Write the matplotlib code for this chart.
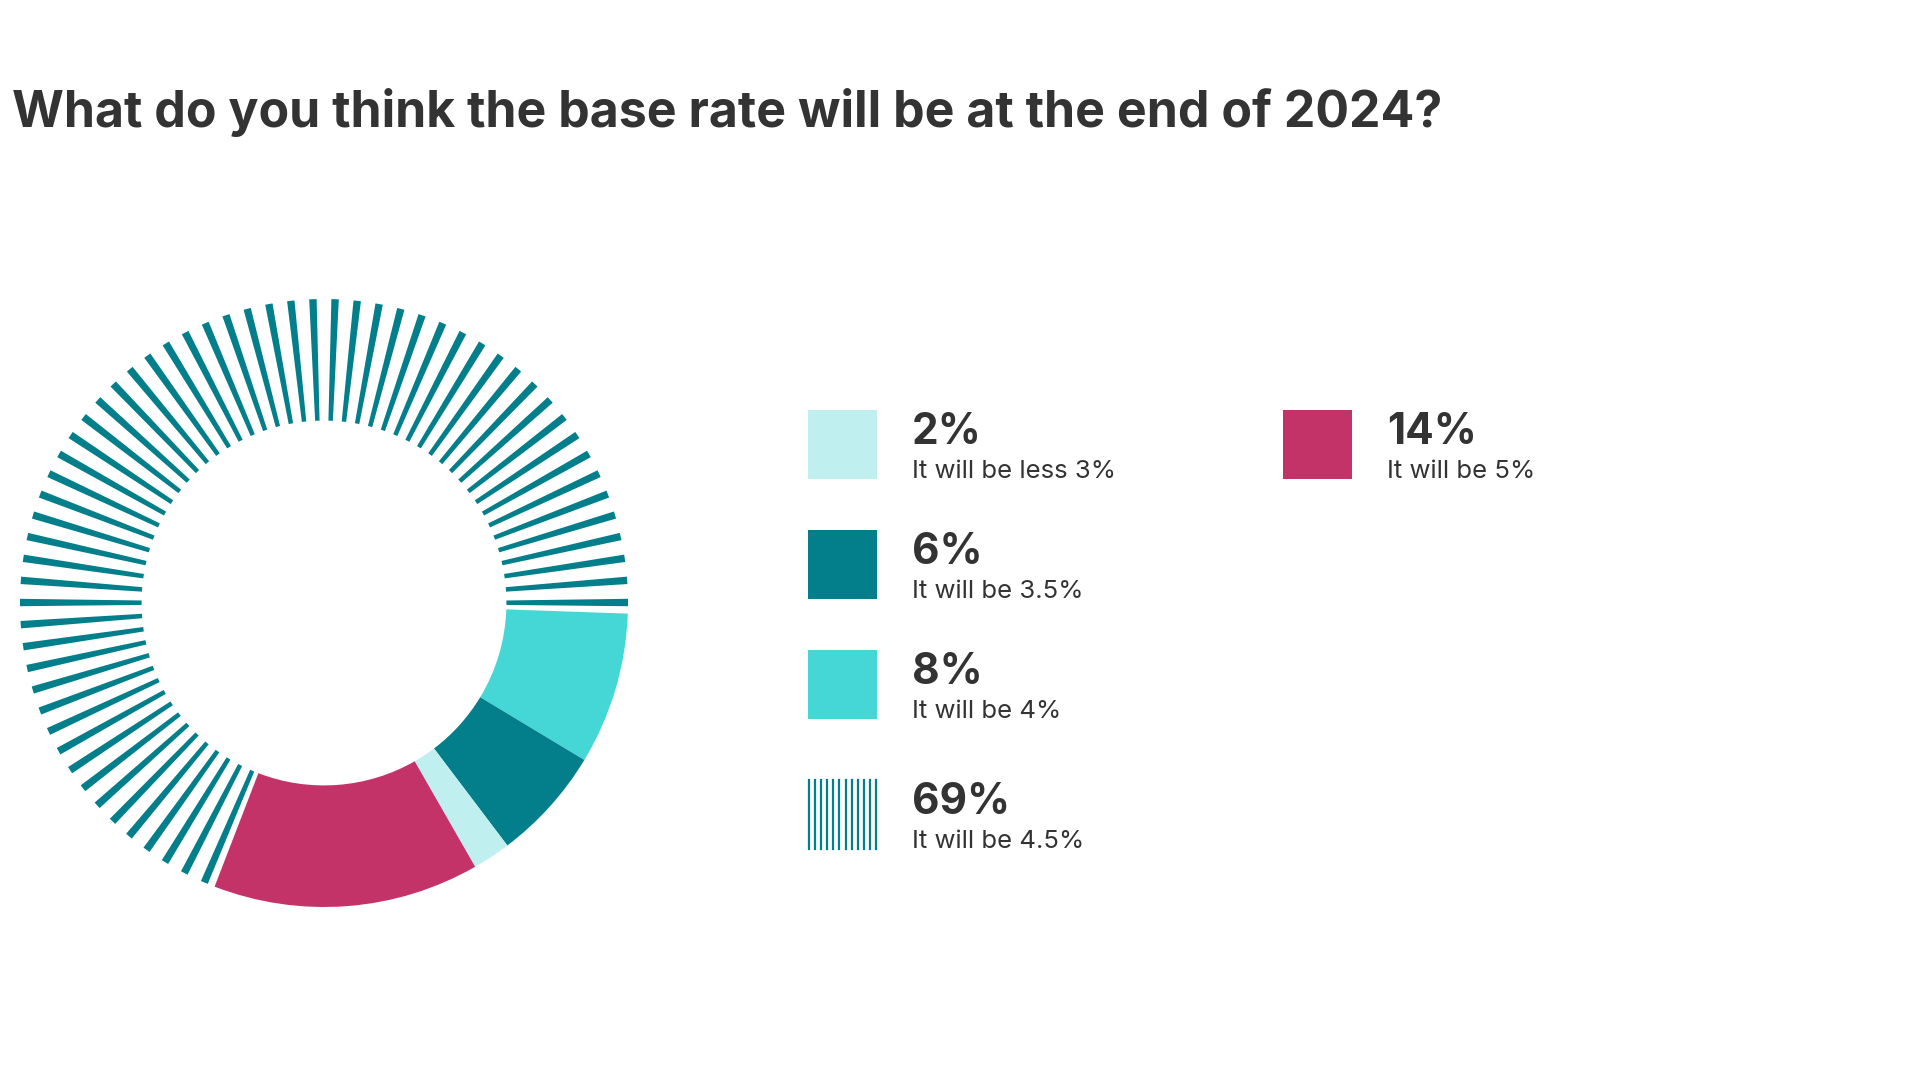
import numpy as np
import matplotlib.pyplot as plt
from matplotlib.patches import Wedge, Rectangle
from matplotlib.lines import Line2D

plt.rcParams['font.family'] = ['Inter', 'DejaVu Sans']

# data
title = "What do you think the base rate will be at the end of 2024?"
labels = ["It will be less 3%", "It will be 3.5%", "It will be 4%", "It will be 4.5%", "It will be 5%"]
shares = [2, 6, 8, 69, 14]
colors = ["#c0efef", "#027f8b", "#45d7d6", "#027f8b", "#c43368"]
striped = [False, False, False, True, False]
pie_order = [2, 1, 0, 4, 3]  # clockwise from 3 o'clock
n_stripes = 60

W, H = 1920, 1080
TEXT = "#333333"


def fx(px):
    return px / W


def fy(py):
    return 1 - py / H


fig = plt.figure(figsize=(19.2, 10.8), dpi=100)
fig.text(fx(12), fy(127), title, fontsize=36, fontweight='bold', color=TEXT,
         ha='left', va='baseline')

# donut
ax = fig.add_axes([fx(20), 173 / H, 608 / W, 608 / H])
wedges, _ = ax.pie([shares[i] for i in pie_order], startangle=-2, counterclock=False,
                   colors=[colors[i] for i in pie_order], radius=1,
                   wedgeprops=dict(width=0.4, linewidth=0))
for w, i in zip(wedges, pie_order):
    if not striped[i]:
        continue
    w.set_visible(False)
    step = (w.theta2 - w.theta1) / n_stripes
    for k in range(n_stripes):
        c = w.theta1 + step * (k + 0.5)
        ax.add_patch(Wedge((0, 0), 1, c - 0.7, c + 0.7, width=0.4,
                           facecolor=colors[i], linewidth=0))
ax.set_xlim(-1, 1)
ax.set_ylim(-1, 1)
ax.set_aspect('equal')
ax.axis('off')

# legend: 4 rows in first column, rest in second
slots = [(808, 410), (808, 530), (808, 650), (808, 780), (1283, 410)]
sw = 69
for i, (x0, y0) in enumerate(slots):
    if striped[i]:
        for xl in np.linspace(x0 + 1, x0 + sw - 1, 12):
            fig.add_artist(Line2D([fx(xl), fx(xl)], [fy(y0), fy(y0 + sw)],
                                  color=colors[i], linewidth=1.6))
    else:
        fig.add_artist(Rectangle((fx(x0), fy(y0 + sw)), sw / W, sw / H,
                                 facecolor=colors[i], linewidth=0))
    fig.text(fx(x0 + 104), fy(y0 + 34), f"{shares[i]}%", fontsize=30.5,
             fontweight='bold', color=TEXT, ha='left', va='baseline')
    fig.text(fx(x0 + 104), fy(y0 + 68), labels[i], fontsize=18.5,
             color=TEXT, ha='left', va='baseline')

fig.savefig("out.png", dpi=100, facecolor='white')
